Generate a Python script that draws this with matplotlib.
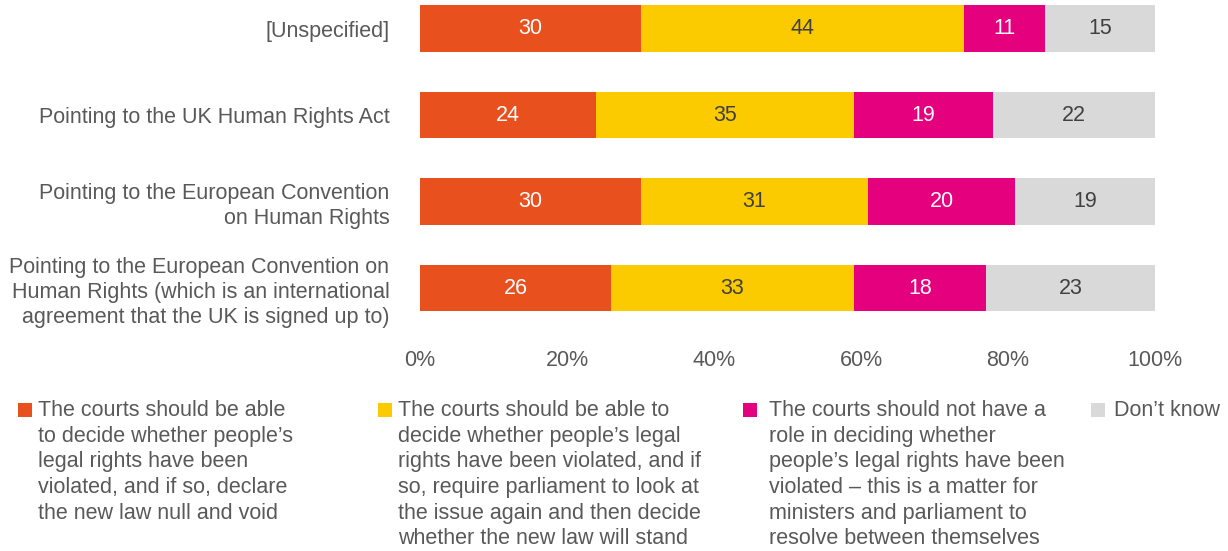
import matplotlib
matplotlib.use("Agg")
import matplotlib.pyplot as plt
from matplotlib.patches import Rectangle

plt.rcParams['font.family'] = ['Liberation Sans', 'DejaVu Sans']

categories = [
    "[Unspecified]",
    "Pointing to the UK Human Rights Act",
    "Pointing to the European Convention\non Human Rights",
    "Pointing to the European Convention on\nHuman Rights (which is an international\nagreement that the UK is signed up to)",
]
null_void = [30, 24, 30, 26]
parliament_look = [44, 35, 31, 33]
no_role = [11, 19, 20, 18]
dont_know = [15, 22, 19, 23]

series = [null_void, parliament_look, no_role, dont_know]
colors = ["#E8501E", "#FBCB00", "#E5007E", "#D9D9D9"]
label_colors = ["white", "#404040", "white", "#404040"]
legend_labels = [
    "The courts should be able\nto decide whether people\u2019s\nlegal rights have been\nviolated, and if so, declare\nthe new law null and void",
    "The courts should be able to\ndecide whether people\u2019s legal\nrights have been violated, and if\nso, require parliament to look at\nthe issue again and then decide\nwhether the new law will stand",
    "The courts should not have a\nrole in deciding whether\npeople\u2019s legal rights have been\nviolated \u2013 this is a matter for\nministers and parliament to\nresolve between themselves",
    "Don\u2019t know",
]
xticks = [0, 20, 40, 60, 80, 100]
xtick_labels = ["0%", "20%", "40%", "60%", "80%", "100%"]

W, H = 1228, 551
FS = 15.5
fig = plt.figure(figsize=(W / 100, H / 100), dpi=100)
ax = fig.add_axes([420 / W, 1 - 340 / H, (1155 - 420) / W, 340 / H])

text_color = "#595959"
y = list(range(len(categories)))
left = [0] * len(categories)
for vals, col, lc in zip(series, colors, label_colors):
    bars = ax.barh(y, vals, left=left, color=col, height=0.54, edgecolor="none")
    ax.bar_label(bars, labels=[str(v) for v in vals], label_type="center",
                 color=lc, fontsize=FS)
    left = [a + b for a, b in zip(left, vals)]

ax.set_xlim(0, 100)
ax.set_ylim(3.6, -0.33)
ax.set_yticks(y)
ax.set_yticklabels(categories, fontsize=FS, color=text_color, linespacing=1.25,
                   multialignment="right")
ax.set_xticks(xticks)
ax.set_xticklabels(xtick_labels, fontsize=FS, color=text_color)
ax.tick_params(axis="y", length=0, pad=22)
ax.tick_params(axis="x", length=0, pad=7)
for s in ax.spines.values():
    s.set_visible(False)

# legend
sq_x = [18, 378, 743, 1091]
txt_x = [38, 398, 769, 1114]
for sx, tx, col, lab in zip(sq_x, txt_x, colors, legend_labels):
    fig.patches.append(Rectangle((sx / W, 1 - 417 / H), 14 / W, 14 / H,
                                 transform=fig.transFigure, facecolor=col,
                                 edgecolor="none"))
    fig.text(tx / W, 1 - 400 / H, lab, ha="left", va="top", fontsize=FS,
             color=text_color, linespacing=1.29)

fig.savefig("out.png", dpi=100)
